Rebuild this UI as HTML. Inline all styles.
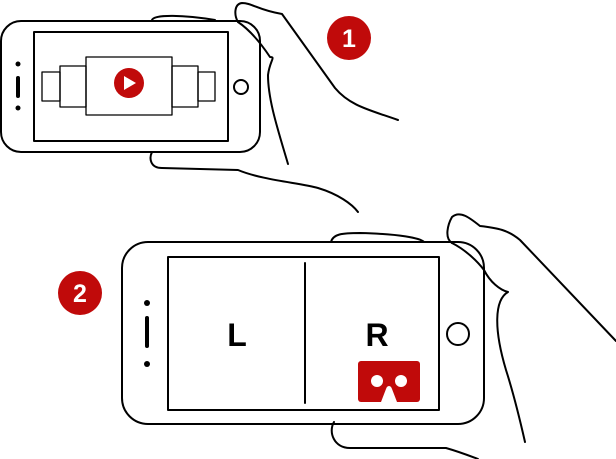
<!DOCTYPE html>
<html><head><meta charset="utf-8"><style>html,body{margin:0;padding:0;background:#fff}svg{display:block}</style></head>
<body>
<svg width="616" height="459" viewBox="0 0 616 459" xmlns="http://www.w3.org/2000/svg">
<g fill="none" stroke="#000" stroke-width="2" stroke-linecap="round" stroke-linejoin="round">
<!-- phone 1 -->
<rect x="1" y="21" width="259" height="131" rx="20"/>
<rect x="34" y="32" width="194" height="109"/>
<rect x="42" y="72" width="18" height="29" stroke-width="1.3"/>
<rect x="198" y="72" width="17" height="29" stroke-width="1.3"/>
<rect x="60" y="66" width="26" height="41" stroke-width="1.3"/>
<rect x="172" y="66" width="26" height="41" stroke-width="1.3"/>
<rect x="86" y="57" width="86" height="58" stroke-width="1.3"/>
<circle cx="241" cy="87" r="7"/>
<line x1="18" y1="78" x2="18" y2="96" stroke-width="4"/>
<!-- hand 1 -->
<path d="M152,20 C154,14 185,15 215,20"/>
<path d="M238,22 C234,15 234,4 242,3 C252,3 258,10 282,14 L335,88 C350,106 370,110 398,120"/>
<path d="M238,22 C250,30 262,45 270,57 C276,57 270,60 268,75 C268,100 278,130 288,164"/>
<path d="M152,152 C149,158 150,168 162,168 L238,170 C262,180 300,183 318,188 C338,194 352,204 358,212"/>
<!-- phone 2 -->
<rect x="122" y="242" width="362" height="182" rx="26"/>
<rect x="168" y="257" width="271" height="153"/>
<line x1="305" y1="263" x2="305" y2="403"/>
<circle cx="458" cy="334" r="11"/>
<line x1="147" y1="318" x2="147" y2="346" stroke-width="4"/>
<!-- hand 2 -->
<path d="M331,242 C333,234 342,233 360,233 C400,234 420,238 424,242"/>
<path d="M452,243 C444,238 448,224 452,217 C460,210 470,218 480,226 C498,228 508,230 520,240 L616,341"/>
<path d="M452,243 C466,250 478,262 484,270 C490,282 500,290 508,292 C494,300 494,330 506,370 C514,395 520,420 525,442"/>
<path d="M334,422 C328,432 334,448 350,448 L446,448 C460,452 470,456 478,459"/>
</g>
<g fill="#000">
<circle cx="18" cy="64" r="2.5"/><circle cx="18" cy="108" r="2.5"/>
<circle cx="147" cy="303" r="3"/><circle cx="147" cy="364" r="3"/>
</g>
<!-- play -->
<circle cx="129" cy="83" r="15" fill="#c00a0a"/>
<polygon points="124,76 124,90 136,83" fill="#fff"/>
<!-- badges -->
<circle cx="349" cy="38" r="22" fill="#c00a0a"/>
<text x="349" y="47" fill="#fff" font-family="Liberation Sans, sans-serif" font-weight="bold" font-size="25" text-anchor="middle">1</text>
<circle cx="80" cy="293" r="22" fill="#c00a0a"/>
<text x="80" y="302" fill="#fff" font-family="Liberation Sans, sans-serif" font-weight="bold" font-size="25" text-anchor="middle">2</text>
<!-- L R -->
<text x="237" y="346" font-family="Liberation Sans, sans-serif" font-weight="bold" font-size="32" text-anchor="middle">L</text>
<text x="377" y="346" font-family="Liberation Sans, sans-serif" font-weight="bold" font-size="32" text-anchor="middle">R</text>
<!-- cardboard -->
<rect x="358" y="361" width="62" height="41" rx="3" fill="#c00a0a"/>
<circle cx="377" cy="381" r="6" fill="#fff"/>
<circle cx="401" cy="381" r="6" fill="#fff"/>
<path d="M381,402 L386,389 C387,385 391,385 392,389 L397,402 Z" fill="#fff"/>
</svg>
</body></html>
